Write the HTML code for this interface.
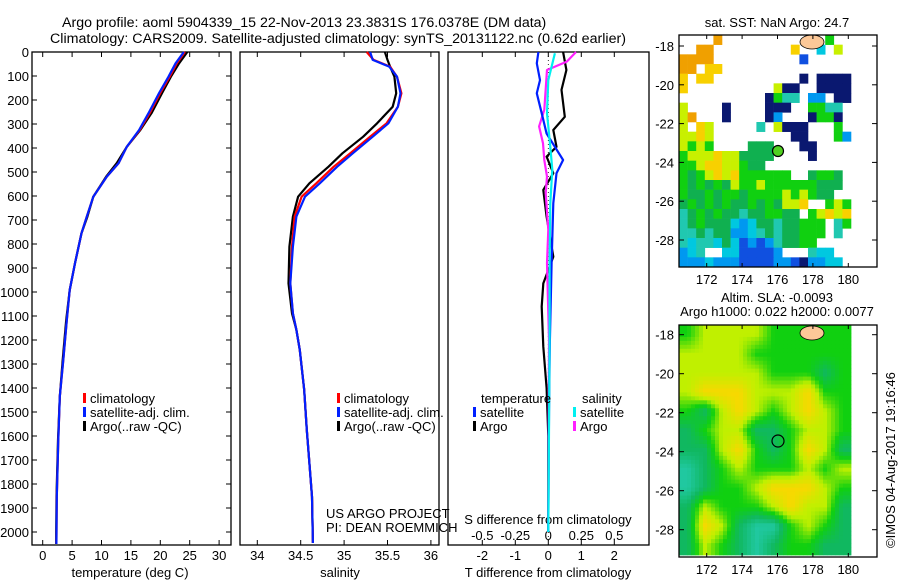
<!DOCTYPE html>
<html><head><meta charset="utf-8"><style>
html,body{margin:0;padding:0;background:#fff;}
svg{display:block;font-family:"Liberation Sans",sans-serif;}
text{fill:#000;}
</style></head><body>
<svg id="fig" width="900" height="580" viewBox="0 0 900 580">
<text x="62" y="27" font-size="14.2">Argo profile: aoml 5904339_15 22-Nov-2013 23.3831S 176.0378E (DM data)</text>
<text x="50" y="43" font-size="14.2" textLength="576" lengthAdjust="spacingAndGlyphs">Climatology: CARS2009. Satellite-adjusted climatology: synTS_20131122.nc (0.62d earlier)</text>
<text x="777" y="27" font-size="13" text-anchor="middle">sat. SST: NaN Argo: 24.7</text>
<text x="777" y="302" font-size="13" text-anchor="middle">Altim. SLA: -0.0093</text>
<text x="777" y="316" font-size="13" text-anchor="middle">Argo h1000: 0.022 h2000: 0.0077</text>
<text transform="translate(895,548) rotate(-90)" font-size="13">©IMOS 04-Aug-2017 19:16:46</text>
<g id="g"></g>
</svg>
<script>
// ---- profile data ----
const depthT=[0,47,103,171,255,325,395,463,519,603,686,755,880,992,1117,1283,1436,1617,1853,2004,2050];
const tempClim=[24.2,22.8,21.6,20.0,18.2,16.5,14.3,12.9,10.9,8.6,7.5,6.6,5.5,4.6,4.1,3.5,2.9,2.65,2.4,2.35,2.33];
const tempSat=[24.0,22.6,21.4,19.8,18.0,16.4,14.3,12.9,10.9,8.6,7.5,6.6,5.5,4.6,4.1,3.5,2.9,2.65,2.4,2.35,2.33];
const tempArgo=[24.6,23.2,21.8,20.3,18.5,16.6,14.3,12.6,10.8,8.6,7.6,6.6,5.5,4.6,4.0,3.4,2.9,2.6,2.35,2.3,2.3];
const depthS=[0,33,61,103,172,228,297,353,422,478,547,603,686,811,964,1089,1158,1242,1408,1575,1713,1853,2046];
const salClim=[35.26,35.34,35.53,35.61,35.66,35.62,35.49,35.30,35.07,34.88,34.68,34.51,34.43,34.40,34.38,34.41,34.45,34.49,34.54,34.57,34.60,34.63,34.64];
const salSat=[35.30,35.33,35.52,35.61,35.65,35.62,35.51,35.33,35.10,34.92,34.72,34.55,34.45,34.41,34.38,34.41,34.45,34.49,34.54,34.57,34.60,34.63,34.64];
const salArgo=[35.47,35.50,35.53,35.58,35.60,35.56,35.38,35.22,34.98,34.82,34.60,34.47,34.41,34.37,34.36,34.40,34.45,34.49,34.54,34.57,34.60,34.63,34.64];
const depthDTA=[0,75,158,270,325,395,436,505,575,686,853,964,1061,1228,1400,1600,1800,2000];
const tDiffArgo=[0.45,0.55,0.4,0.5,0.15,0.25,-0.05,0.15,-0.15,-0.05,0.15,-0.15,-0.2,-0.15,-0.05,0,0,0];
const depthDTS=[0,47,117,172,255,340,450,505,630,880,1200,1500,2000];
const tDiffSat=[-0.3,-0.35,-0.25,-0.35,-0.2,-0.05,0.45,0.25,0.15,0.1,0.05,0.02,0];
const depthDSS=[5,117,255,395,490,630,880,1200,2000];
const sDiffSat=[0.05,0,-0.01,0.015,0.03,0.015,0.01,0.01,0];
const depthDSA=[0,40,75,241,310,380,450,519,589,741,880,1200,2000];
const sDiffArgo=[0.21,0.14,-0.01,-0.03,-0.07,-0.04,-0.03,-0.01,-0.02,0,-0.01,0.005,0];
const depthTicks=[0,100,200,300,400,500,600,700,800,900,1000,1100,1200,1300,1400,1500,1600,1700,1800,1900,2000];
const tempTicks=[0,5,10,15,20,25,30];
const salTicks=[34,34.5,35,35.5,36];
const tDiffTicks=[-2,-1,0,1,2];
const sDiffTicks=[-0.5,-0.25,0,0.25,0.5];
const sDiffLabels=["-0.5","-0.25","0","0.25","0.5"];
const lonTicks=[172,174,176,178,180];
const latTicks=[-18,-20,-22,-24,-26,-28];
// ---- map data (color codes per cell) ----
const sstRows=[
"....o............g..",
"..oo.........y..c.l.",
"oooo..........d.....",
"oo.yy...............",
"y.yy..........n.nnnn",
"y..........lnn..nnnn",
"..........ngtt.bb.nn",
"l....n....nnn..ggtt.",
"lo...n....nb...nggn.",
"l.yl.....t.lnnn...g.",
"llyl.........nn...gb",
"lglg....mmm...nn....",
"glllyllmmmm....n....",
"gglyyllgmm..........",
"gmglylygggggg..mggm.",
"gmgmgmlgglggggggmmm.",
"gmmgmggmgggglglgmm..",
"mgmgmgmmgmgmlly..glg",
"tmgmgmmtmmggmm.glyly",
"tmgmmmcbcmmtmmggg.tg",
"ttmtmmbbctmtmmggg.t.",
"tcttcmcdbdbtmmgg....",
"bct..ccddddb...tcc..",
"bbbcbbbddddbbdnbbcc."];
const slaRows=[
[2,3,3,3,3,2,2,2,2,2],
[3,3,3,3,2,2,2,2,2,2],
[3,3,3,3,3,2,2,2,1,2],
[3,4,4,4,3,3,3,4,2,2],
[2,1,3,4,3,2,3,4,3,2],
[1,2,3,3,1,1,2,3,3,2],
[1,1,3,4,2,1,2,4,3,1],
[0,1,2,3,2,2,2,3,2,3],
[0,1,2,2,3,4,4,4,3,2],
[1,3,2,2,2,3,4,3,3,1],
[1,4,3,1,0,0,2,3,2,1],
[1,3,2,1,0,1,2,2,1,1]];
const sstColors={o:"#f0a000",y:"#f8d000",l:"#c8f000",g:"#10d010",m:"#10b050",t:"#20c8b0",c:"#00c8e0",b:"#0098f0",d:"#1050e0",n:"#0a1870"};
const slaPalette=[[32,200,160],[16,184,96],[16,208,16],[192,240,0],[248,216,0]];

const NS="http://www.w3.org/2000/svg";
const G=document.getElementById('g');
function el(t,a,p){const e=document.createElementNS(NS,t);for(const k in a)e.setAttribute(k,a[k]);(p||G).appendChild(e);return e;}
const yD=d=>52+d*0.24;
const xT=t=>42.7+t*5.88;
const xS=s=>257.3+(s-34)*86.8;
const xDT=t=>548.3+t*33;
const xDS=s=>548.3+s*132;
const TOP=52,BOT=545;

function panel(x0,x1,name){
  const r=el('rect',{x:x0,y:TOP,width:x1-x0,height:BOT-TOP,fill:'#fff',stroke:'#000','stroke-width':1.3});
  
  
}
panel(32,231,'temperature-panel');
panel(240,439,'salinity-panel');
panel(448,649,'difference-panel');

function xticks(vals,f,labels,ly,name,top){
  vals.forEach((v,i)=>{
    const x=f(v);
    el('line',{x1:x,x2:x,y1:BOT,y2:BOT-5,stroke:'#000'});
    if(top) el('line',{x1:x,x2:x,y1:TOP,y2:TOP+5,stroke:'#000'});
    if(labels){const t=el('text',{x:x,y:ly,'font-size':13,'text-anchor':'middle'});t.textContent=labels[i];
      
      }
  });
}
xticks(tempTicks,xT,tempTicks.map(String),560,'temperature-tick-label',true);
xticks(salTicks,xS,salTicks.map(String),560,'salinity-tick-label',true);
xticks(tDiffTicks,xDT,tDiffTicks.map(String),560,'t-diff-tick-label',true);
sDiffTicks.forEach((v,i)=>{
  const t=el('text',{x:xDS(v),y:540,'font-size':13,'text-anchor':'middle'});t.textContent=sDiffLabels[i];
  
  
});
depthTicks.forEach(d=>{
  const y=yD(d);
  el('line',{x1:32,x2:37,y1:y,y2:y,stroke:'#000'});
  el('line',{x1:231,x2:226,y1:y,y2:y,stroke:'#000'});
  const t=el('text',{x:29,y:y+5,'font-size':13,'text-anchor':'end'});t.textContent=String(d);
  
  
});
function axTitle(x,txt,name){const t=el('text',{x:x,y:577,'font-size':13,'text-anchor':'middle'});t.textContent=txt;
  
  }
axTitle(130,'temperature (deg C)','temperature-axis-title');
axTitle(340,'salinity','salinity-axis-title');
axTitle(548,'T difference from climatology','t-diff-axis-title');
{const t=el('text',{x:548,y:524,'font-size':13,'text-anchor':'middle'});t.textContent='S difference from climatology';
 
 }

function line(xs,ds,fx,color,name){
  const pts=xs.map((v,i)=>fx(v).toFixed(1)+','+yD(ds[i]).toFixed(1)).join(' ');
  const p=el('polyline',{points:pts,fill:'none',stroke:color,'stroke-width':2.2,'stroke-linejoin':'round'});
  
  
}
el('line',{x1:548.3,x2:548.3,y1:yD(0),y2:yD(2050),stroke:'#000','stroke-width':0.8,'stroke-dasharray':'1 3'});
line(tempArgo,depthT,xT,'#000','temperature-argo-line');
line(tempClim,depthT,xT,'#f00','temperature-climatology-line');
line(tempSat,depthT,xT,'#0020ff','temperature-satellite-line');
line(salArgo,depthS,xS,'#000','salinity-argo-line');
line(salClim,depthS,xS,'#f00','salinity-climatology-line');
line(salSat,depthS,xS,'#0020ff','salinity-satellite-line');
line(tDiffArgo,depthDTA,xDT,'#000','t-diff-argo-line');
line(sDiffArgo,depthDSA,xDS,'#ff20ff','s-diff-argo-line');
line(tDiffSat,depthDTS,xDT,'#0020ff','t-diff-satellite-line');
line(sDiffSat,depthDSS,xDS,'#00f0f0','s-diff-satellite-line');

function legend(x,y,color,txt,name){
  el('rect',{x:x,y:y-10,width:3,height:10,fill:color});
  const t=el('text',{x:x+7,y:y,'font-size':13});t.textContent=txt;
  
  
}
legend(83,403,'#f00','climatology','legend-climatology');
legend(83,417,'#0020ff','satellite-adj. clim.','legend-satellite-adj');
legend(83,431,'#000','Argo(..raw -QC)','legend-argo');
legend(337,403,'#f00','climatology','legend-climatology-sal');
legend(337,417,'#0020ff','satellite-adj. clim.','legend-satellite-adj-sal');
legend(337,431,'#000','Argo(..raw -QC)','legend-argo-sal');
{const t=el('text',{x:481,y:403,'font-size':13});t.textContent='temperature';
 
 }
{const t=el('text',{x:582,y:403,'font-size':13});t.textContent='salinity';
 
 }
legend(473,417,'#0020ff','satellite','legend-t-satellite');
legend(473,431,'#000','Argo','legend-t-argo');
legend(573,417,'#00f0f0','satellite','legend-s-satellite');
legend(573,431,'#ff20ff','Argo','legend-s-argo');
{const t=el('text',{x:326,y:518,'font-size':13});t.textContent='US ARGO PROJECT';
 
 }
{const t=el('text',{x:326,y:532,'font-size':13});t.textContent='PI: DEAN ROEMMICH';
 
 }

// ---- maps ----
const lonX=l=>706.7+(l-172)*17.7;
function mapFrame(top,bottom,latY,name,lonLabelY){
  const r=el('rect',{x:679,y:top,width:198,height:bottom-top,fill:'none',stroke:'#000','stroke-width':1.3});
  
  
  lonTicks.forEach(l=>{const x=lonX(l);
    el('line',{x1:x,x2:x,y1:bottom,y2:bottom-4,stroke:'#000'});
    el('line',{x1:x,x2:x,y1:top,y2:top+4,stroke:'#000'});
    const t=el('text',{x:x,y:lonLabelY,'font-size':13,'text-anchor':'middle'});t.textContent=String(l);
    
    });
  latTicks.forEach(la=>{const y=latY(la);
    el('line',{x1:679,x2:684,y1:y,y2:y,stroke:'#000'});
    el('line',{x1:877,x2:872,y1:y,y2:y,stroke:'#000'});
    const t=el('text',{x:674,y:y+5,'font-size':13,'text-anchor':'end'});t.textContent=String(la);
    
    });
}
// SST map
const sTop=35,sH=232/24,sW=172/20;
sstRows.forEach((row,r)=>{
  for(let c=0;c<row.length;c++){const ch=row[c];if(ch==='.')continue;
    const cell=el('rect',{x:679+c*sW,y:sTop+r*sH,width:sW+0.3,height:sH+0.3,fill:sstColors[ch]});
    
    }
});
el('ellipse',{cx:812,cy:42,rx:12,ry:7,fill:'#fcc898',stroke:'#000','stroke-width':0.8});
{const c=el('circle',{cx:778,cy:151,r:5.5,fill:'#50d020',stroke:'#000','stroke-width':1.2});
 
 }
mapFrame(35,267,la=>46+(-18-la)*19.4,'sst-map-frame',284);
// SLA map: bilinear interpolation of the coarse grid into small cells
const NR=slaRows.length,NC=slaRows[0].length;
const bW=172/NC,bH=230/NR,sub=4;
function slaVal(x,y){ // x,y in grid-cell units, centers at i+0.5
  let gx=Math.min(Math.max(x-0.5,0),NC-1),gy=Math.min(Math.max(y-0.5,0),NR-1);
  const x0=Math.floor(gx),y0=Math.floor(gy),x1=Math.min(x0+1,NC-1),y1=Math.min(y0+1,NR-1);
  const fx=gx-x0,fy=gy-y0;
  const a=slaRows[y0][x0]*(1-fx)+slaRows[y0][x1]*fx, b=slaRows[y1][x0]*(1-fx)+slaRows[y1][x1]*fx;
  return a*(1-fy)+b*fy;
}
function slaColor(v){
  const i=Math.min(Math.floor(v),slaPalette.length-2),f=v-i;
  const c=slaPalette[i].map((p,k)=>Math.round(p*(1-f)+slaPalette[i+1][k]*f));
  return 'rgb('+c.join(',')+')';
}
const slaG=el('g',{});


const pw=172/Math.round(172/sub),ph=230/Math.round(230/sub);
for(let py=325;py<554.9;py+=ph){
  for(let px=679;px<850.9;px+=pw){
    const v=slaVal((px+pw/2-679)/bW,(py+ph/2-325)/bH);
    el('rect',{x:px.toFixed(2),y:py.toFixed(2),width:(pw+0.4).toFixed(2),height:(ph+0.4).toFixed(2),fill:slaColor(v)},slaG);
  }
}
el('ellipse',{cx:812,cy:333,rx:12,ry:7,fill:'#fcc898',stroke:'#000','stroke-width':0.8});
{const c=el('circle',{cx:778,cy:441,r:6,fill:'none',stroke:'#000','stroke-width':1.2});
 
 }
mapFrame(325,557,la=>334.7+(-18-la)*19.5,'sla-map-frame',574);
</script>
</body></html>
